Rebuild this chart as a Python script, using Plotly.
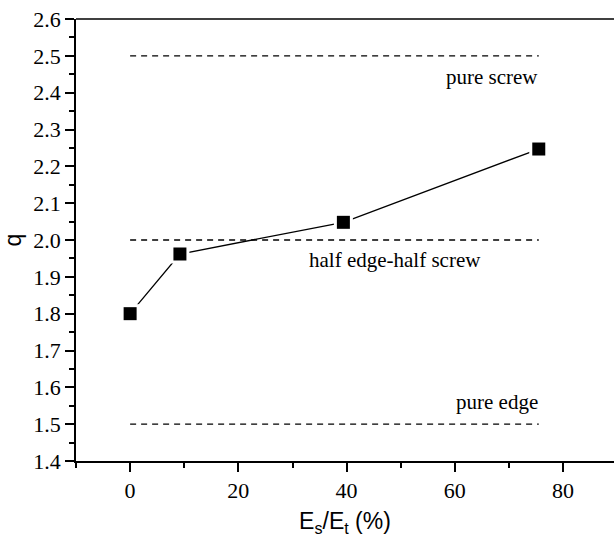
import plotly.graph_objects as go

# Data
es_et = [0.0, 9.2, 39.4, 75.5]
q_vals = [1.80, 1.962, 2.048, 2.247]

ref_levels = [2.5, 2.0, 1.5]
ref_x = [0.0, 75.5]
ref_labels = ["pure screw", "half edge-half screw", "pure edge"]
label_x = [66.8, 49.0, 67.8]
label_y = [2.442, 1.946, 1.559]

x_ticks = [0, 20, 40, 60, 80]

SERIF = "Liberation Serif"
SANS = "Liberation Sans"

fig = go.Figure()

for lv in ref_levels:
    fig.add_trace(go.Scatter(
        x=ref_x, y=[lv, lv], mode="lines",
        line=dict(color="black", width=1.3, dash="6px,5px"),
        hoverinfo="skip", showlegend=False))

fig.add_trace(go.Scatter(
    x=es_et, y=q_vals, mode="lines",
    line=dict(color="black", width=1.3), showlegend=False))
# white halo to create gaps between line and markers
fig.add_trace(go.Scatter(
    x=es_et, y=q_vals, mode="markers",
    marker=dict(symbol="square", size=19, color="white", line=dict(width=0)),
    showlegend=False, hoverinfo="skip"))
fig.add_trace(go.Scatter(
    x=es_et, y=q_vals, mode="markers",
    marker=dict(symbol="square", size=13, color="black", line=dict(width=0)),
    showlegend=False))

for t, lx, ly in zip(ref_labels, label_x, label_y):
    fig.add_annotation(x=lx, y=ly, text=t, showarrow=False,
                       font=dict(family=SERIF, size=21, color="black"),
                       xanchor="center", yanchor="middle")

# top border line
fig.add_shape(type="line", xref="paper", yref="paper", x0=0, x1=1, y0=1, y1=1,
              line=dict(color="black", width=1.5))

fig.update_layout(
    width=614, height=537,
    margin=dict(l=76, r=0, t=19, b=76),
    paper_bgcolor="white", plot_bgcolor="white",
    showlegend=False,
)

fig.update_xaxes(
    range=[-10, 89.4],
    tickmode="array", tickvals=x_ticks,
    ticks="outside", ticklen=9, tickwidth=1.5, tickcolor="black",
    minor=dict(dtick=10, tick0=10, ticks="outside", ticklen=5, tickwidth=1.5, tickcolor="black"),
    showline=True, linecolor="black", linewidth=1.5,
    showgrid=False, zeroline=False,
    tickfont=dict(family=SERIF, size=22, color="black"),
    title=dict(text="E<sub>s</sub>/E<sub>t</sub> (%)", font=dict(family=SANS, size=23, color="black"),
               standoff=14),
)
fig.update_yaxes(
    range=[1.4, 2.6],
    dtick=0.1, tick0=1.4, tickformat=".1f",
    ticks="outside", ticklen=9, tickwidth=1.5, tickcolor="black",
    minor=dict(dtick=0.05, tick0=1.4, ticks="outside", ticklen=5, tickwidth=1.5, tickcolor="black"),
    showline=True, linecolor="black", linewidth=1.5,
    showgrid=False, zeroline=False,
    tickfont=dict(family=SERIF, size=22, color="black"),
    title=dict(text="q", font=dict(family=SANS, size=23, color="black"), standoff=10),
)

fig.write_html("out.html")
